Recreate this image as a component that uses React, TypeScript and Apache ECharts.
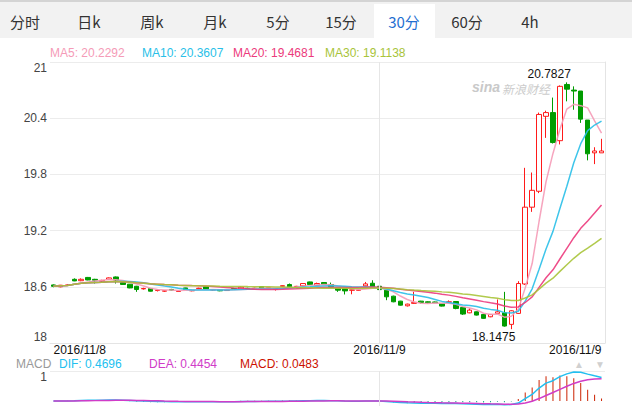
import React, { useEffect, useRef } from "react";
import * as echarts from "echarts";

// ---------- data ----------
const tabNames = ["分时", "日k", "周k", "月k", "5分", "15分", "30分", "60分", "4h"];
const activeTab = "30分";

const dayLabels = ["2016/11/8", "2016/11/9"];
const barsPerDay = [47, 33];
const firstSlotMinutes = [30, 0];

const opens = [
  18.62, 18.6, 18.615, 18.68, 18.665, 18.7, 18.68, 18.66, 18.68, 18.705,
  18.646, 18.628, 18.606, 18.578, 18.582, 18.56, 18.553, 18.572, 18.55, 18.588,
  18.557, 18.58, 18.6, 18.566, 18.57, 18.56, 18.582, 18.574, 18.584, 18.58,
  18.603, 18.585, 18.574, 18.605, 18.624, 18.6, 18.61, 18.652, 18.617, 18.646,
  18.624, 18.588, 18.582, 18.563, 18.563, 18.61, 18.638, 18.606, 18.564, 18.5,
  18.447, 18.397, 18.423, 18.447, 18.44, 18.438, 18.422, 18.435, 18.443, 18.38,
  18.322, 18.333, 18.305, 18.28, 18.316, 18.322, 18.199, 18.316, 18.63, 19.45,
  19.62, 20.42, 20.46, 20.16, 20.76, 20.7, 20.69, 20.38, 20.03, 20.03,
];
const closes = [
  18.605, 18.617, 18.62, 18.663, 18.68, 18.673, 18.67, 18.668, 18.695, 18.673,
  18.625, 18.588, 18.571, 18.582, 18.553, 18.565, 18.558, 18.565, 18.555, 18.571,
  18.562, 18.585, 18.574, 18.57, 18.557, 18.564, 18.572, 18.596, 18.58, 18.585,
  18.585, 18.59, 18.58, 18.612, 18.6, 18.605, 18.635, 18.624, 18.635, 18.624,
  18.596, 18.564, 18.556, 18.567, 18.567, 18.631, 18.6, 18.57, 18.493, 18.44,
  18.404, 18.415, 18.433, 18.433, 18.43, 18.43, 18.394, 18.44, 18.369, 18.309,
  18.351, 18.298, 18.263, 18.305, 18.333, 18.181, 18.344, 18.635, 19.45, 19.63,
  20.44, 20.46, 20.14, 20.74, 20.71, 20.69, 20.39, 20.02, 20.05, 20.05,
];
const lows = [
  18.595, 18.595, 18.61, 18.66, 18.66, 18.67, 18.635, 18.655, 18.675, 18.635,
  18.62, 18.585, 18.546, 18.57, 18.55, 18.55, 18.545, 18.56, 18.545, 18.565,
  18.552, 18.575, 18.57, 18.56, 18.553, 18.555, 18.568, 18.57, 18.575, 18.576,
  18.58, 18.58, 18.56, 18.6, 18.595, 18.595, 18.605, 18.62, 18.612, 18.62,
  18.59, 18.546, 18.518, 18.52, 18.555, 18.605, 18.595, 18.565, 18.457, 18.435,
  18.4, 18.39, 18.418, 18.42, 18.42, 18.425, 18.39, 18.43, 18.36, 18.3,
  18.318, 18.294, 18.258, 18.275, 18.31, 18.175, 18.1475, 18.31, 18.62, 19.4,
  19.6, 20.19, 20.13, 20.12, 20.58, 20.49, 20.35, 19.95, 19.91, 20.03,
];
const highs = [
  18.625, 18.62, 18.63, 18.69, 18.69, 18.705, 18.685, 18.675, 18.7, 18.71,
  18.65, 18.63, 18.61, 18.59, 18.585, 18.57, 18.565, 18.578, 18.56, 18.59,
  18.568, 18.59, 18.605, 18.575, 18.572, 18.57, 18.585, 18.605, 18.59, 18.59,
  18.606, 18.595, 18.585, 18.615, 18.635, 18.61, 18.64, 18.655, 18.645, 18.65,
  18.645, 18.59, 18.585, 18.57, 18.575, 18.652, 18.67, 18.61, 18.566, 18.505,
  18.45, 18.42, 18.546, 18.45, 18.445, 18.442, 18.425, 18.455, 18.445, 18.383,
  18.37, 18.336, 18.308, 18.31, 18.465, 18.546, 18.35, 18.66, 19.87, 19.82,
  20.46, 20.48, 20.62, 20.75, 20.7827, 20.74, 20.69, 20.38, 20.09, 20.18,
];

const maNames = ["MA5", "MA10", "MA20", "MA30"];
const maPeriods = [5, 10, 20, 30];
const maLast = ["20.2292", "20.3607", "19.4681", "19.1138"];

const macdNames = ["DIF", "DEA", "MACD"];
const macdLast = ["0.4696", "0.4454", "0.0483"];

const yTicks = [18, 18.6, 19.2, 19.8, 20.4, 21];

// ---------- styles ----------
const maColors = ["#f59bb7", "#29bfe8", "#ec3a7c", "#a8c43a"];
const macdColors = ["#22bff0", "#d03cc8", "#cc1100"];
const UP = "#ff1a1a";
const DOWN = "#009c00";
const GRID_LINE = "#ececec";
const LATIN = "Arial, 'Liberation Sans', sans-serif";
const CJK = "'Noto Sans CJK SC', 'Noto Sans', sans-serif";

function pad(n: number) {
  return n < 10 ? "0" + n : String(n);
}

function buildCategories() {
  const out: string[] = [];
  dayLabels.forEach((d, di) => {
    for (let k = 0; k < barsPerDay[di]; k++) {
      const m = firstSlotMinutes[di] + k * 30;
      out.push(`${d} ${pad(Math.floor(m / 60))}:${pad(m % 60)}`);
    }
  });
  return out;
}

function movingAverage(n: number) {
  return closes.map((_, i) => {
    const s = Math.max(0, i - n + 1);
    let sum = 0;
    for (let j = s; j <= i; j++) sum += closes[j];
    return +(sum / (i - s + 1)).toFixed(4);
  });
}

function ema(values: number[], n: number) {
  const a = 2 / (n + 1);
  const out: number[] = [];
  values.forEach((v, i) => {
    out.push(i === 0 ? v : out[i - 1] + a * (v - out[i - 1]));
  });
  return out;
}

export default function App() {
  const ref = useRef<HTMLDivElement>(null);

  useEffect(() => {
    if (!ref.current) return;
    const chart = echarts.init(ref.current, undefined, { renderer: "svg" });

    const categories = buildCategories();
    const last = categories.length - 1;
    const dayOf = (c: string) => c.split(" ")[0];
    const dayStart = categories.findIndex((c) => dayOf(c) === dayLabels[1]);

    const candles = opens.map((o, i) => [o, closes[i], lows[i], highs[i]]);
    const e12 = ema(closes, 12);
    const e26 = ema(closes, 26);
    const dif = e12.map((v, i) => v - e26[i]);
    const dea = ema(dif, 9);
    const macd = dif.map((v, i) => 2 * (v - dea[i]));

    const vline = {
      silent: true,
      symbol: ["none", "none"],
      label: { show: false },
      lineStyle: { color: "#e6e6e6", type: "solid", width: 1 },
      data: [{ xAxis: categories[dayStart] }],
    };

    const graphics: any[] = [
      { type: "rect", shape: { x: 0, y: 0, width: 632, height: 2 }, style: { fill: "#d4d4d4" }, silent: true },
      { type: "rect", shape: { x: 0, y: 2, width: 632, height: 36 }, style: { fill: "#f2f2f2" }, silent: true },
    ];
    const tabCenters = [25, 89, 152, 215, 278, 341, 404, 467, 530];
    tabNames.forEach((t, i) => {
      if (t === activeTab) {
        graphics.push({
          type: "rect",
          shape: { x: tabCenters[i] - 30, y: 4, width: 61, height: 34 },
          style: { fill: "#ffffff" },
          silent: true,
        });
      }
    });
    tabNames.forEach((t, i) => {
      graphics.push({
        type: "text",
        x: tabCenters[i],
        y: 21,
        style: {
          text: t,
          fill: t === activeTab ? "#1f6fd1" : "#333333",
          font: `15px ${CJK}`,
          textAlign: "center",
          textVerticalAlign: "middle",
        },
        silent: true,
      });
    });
    const maX = [50, 142, 233, 325];
    maNames.forEach((n, i) => {
      graphics.push({
        type: "text",
        x: maX[i],
        y: 53,
        style: {
          text: `${n}: ${maLast[i]}`,
          fill: maColors[i],
          font: `12px ${LATIN}`,
          textVerticalAlign: "middle",
        },
        silent: true,
      });
    });
    graphics.push({
      type: "text",
      x: 16,
      y: 364,
      style: { text: "MACD", fill: "#999999", font: `12px ${LATIN}`, textVerticalAlign: "middle" },
      silent: true,
    });
    const macdX = [59, 149, 240];
    macdNames.forEach((n, i) => {
      graphics.push({
        type: "text",
        x: macdX[i],
        y: 364,
        style: {
          text: `${n}: ${macdLast[i]}`,
          fill: macdColors[i],
          font: `12px ${LATIN}`,
          textVerticalAlign: "middle",
        },
        silent: true,
      });
    });
    graphics.push(
      {
        type: "text",
        x: 579,
        y: 364,
        style: { text: "▲", fill: "#d0d0d0", font: `10px ${LATIN}`, textAlign: "center", textVerticalAlign: "middle" },
        silent: true,
      },
      {
        type: "text",
        x: 600,
        y: 364,
        style: { text: "▼", fill: "#d0d0d0", font: `10px ${LATIN}`, textAlign: "center", textVerticalAlign: "middle" },
        silent: true,
      },
      {
        type: "text",
        x: 472,
        y: 87,
        style: {
          text: "sina",
          fill: "#c9c9c9",
          font: `italic bold 14px ${LATIN}`,
          textVerticalAlign: "middle",
        },
        silent: true,
      },
      {
        type: "text",
        x: 502,
        y: 88,
        style: {
          text: "新浪财经",
          fill: "#cccccc",
          font: `italic 12px ${CJK}`,
          textVerticalAlign: "middle",
        },
        silent: true,
      }
    );

    chart.setOption({
      animation: false,
      backgroundColor: "#ffffff",
      graphic: graphics,
      grid: [
        { left: 50, right: 27, top: 62, height: 281 },
        { left: 50, right: 27, top: 371, bottom: 0 },
      ],
      xAxis: [
        {
          type: "category",
          gridIndex: 0,
          data: categories,
          boundaryGap: true,
          axisLine: { show: true, lineStyle: { color: "#e4e4e4" } },
          axisTick: { show: false },
          splitLine: { show: false },
          axisLabel: {
            color: "#111111",
            fontSize: 12,
            fontFamily: LATIN,
            margin: 1,
            interval: (idx: number) =>
              idx === 0 || idx === last || dayOf(categories[idx]) !== dayOf(categories[idx - 1]),
            formatter: (v: string) => dayOf(v),
            alignMinLabel: "left",
            alignMaxLabel: "right",
            showMinLabel: true,
            showMaxLabel: true,
          },
        },
        {
          type: "category",
          gridIndex: 1,
          data: categories,
          boundaryGap: true,
          axisLine: { show: false },
          axisTick: { show: false },
          axisLabel: { show: false },
          splitLine: { show: false },
        },
      ],
      yAxis: [
        {
          type: "value",
          gridIndex: 0,
          min: yTicks[0],
          max: yTicks[yTicks.length - 1],
          interval: 0.6,
          axisLine: { show: false },
          axisTick: { show: false },
          axisLabel: {
            color: "#444444",
            fontSize: 12,
            fontFamily: LATIN,
            margin: 3,
            formatter: (v: number) => String(Math.round(v * 10) / 10),
            verticalAlignMaxLabel: "top",
            verticalAlignMinLabel: "bottom",
          },
          splitLine: { show: true, lineStyle: { color: GRID_LINE } },
        },
        {
          type: "value",
          gridIndex: 0,
          position: "right",
          min: yTicks[0],
          max: yTicks[yTicks.length - 1],
          axisLine: { show: true, lineStyle: { color: "#e4e4e4" } },
          axisTick: { show: false },
          axisLabel: { show: false },
          splitLine: { show: false },
        },
        {
          type: "value",
          gridIndex: 1,
          min: -0.1,
          max: 0.6,
          interval: 0.7,
          axisLine: { show: false },
          axisTick: { show: false },
          axisLabel: {
            color: "#444444",
            fontSize: 12,
            fontFamily: LATIN,
            margin: 3,
            verticalAlign: "top",
            formatter: (v: number) => (v > 0.5 ? String(Math.round(v)) : ""),
          },
          splitLine: { show: true, lineStyle: { color: GRID_LINE } },
        },
      ],
      series: [
        {
          type: "candlestick",
          xAxisIndex: 0,
          yAxisIndex: 0,
          data: candles,
          barWidth: 5,
          itemStyle: {
            color: "#ffffff",
            color0: DOWN,
            borderColor: UP,
            borderColor0: DOWN,
            borderWidth: 1,
          },
          markLine: vline,
          markPoint: {
            symbol: "circle",
            symbolSize: 1,
            itemStyle: { color: "rgba(0,0,0,0)" },
            label: {
              show: true,
              color: "#111111",
              fontSize: 12,
              fontFamily: LATIN,
              formatter: (p: any) => Number(p.value).toFixed(4),
            },
            data: [
              {
                type: "max",
                valueDim: "highest",
                label: { position: "top", align: "right", offset: [4, 0], distance: 2 },
              },
              {
                type: "min",
                valueDim: "lowest",
                label: { position: "bottom", align: "right", offset: [4, 0], distance: 1 },
              },
            ],
          },
        },
        ...maPeriods.map((n, i) => ({
          type: "line",
          name: maNames[i],
          xAxisIndex: 0,
          yAxisIndex: 0,
          data: movingAverage(n),
          showSymbol: false,
          symbol: "none",
          lineStyle: { color: maColors[i], width: 1.5, opacity: 0.9 },
          silent: true,
        })),
        {
          type: "bar",
          xAxisIndex: 1,
          yAxisIndex: 2,
          barWidth: 1,
          data: macd.map((v) => ({
            value: +v.toFixed(4),
            itemStyle: { color: v >= 0 ? "#cc2200" : "#1aa58a" },
          })),
          markLine: vline,
          silent: true,
        },
        {
          type: "line",
          xAxisIndex: 1,
          yAxisIndex: 2,
          data: dif.map((v) => +v.toFixed(4)),
          showSymbol: false,
          symbol: "none",
          lineStyle: { color: macdColors[0], width: 1.5 },
          silent: true,
        },
        {
          type: "line",
          xAxisIndex: 1,
          yAxisIndex: 2,
          data: dea.map((v) => +v.toFixed(4)),
          showSymbol: false,
          symbol: "none",
          lineStyle: { color: macdColors[1], width: 1.5 },
          silent: true,
        },
      ],
    });

    return () => {
      chart.dispose();
    };
  }, []);

  return (
    <div
      ref={ref}
      style={{ position: "fixed", left: 0, top: 0, width: 632, height: 406, background: "#fff" }}
    />
  );
}
